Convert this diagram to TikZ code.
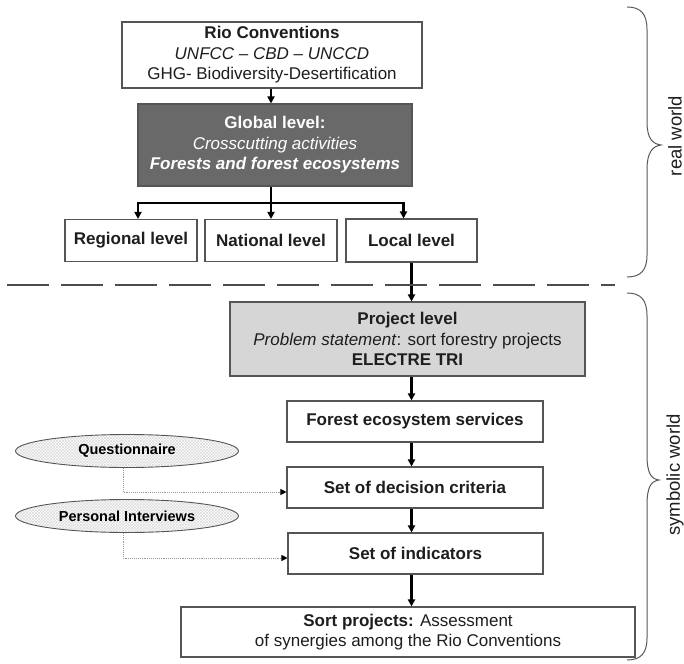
\documentclass[tikz,border=0pt]{standalone}
\usepackage{fontspec}
\setmainfont{Liberation Sans}
\usetikzlibrary{arrows.meta,shapes.geometric,patterns}
\definecolor{txt}{HTML}{1E1E1E}
\definecolor{bord}{HTML}{555555}
\definecolor{dark}{HTML}{696969}
\definecolor{light}{HTML}{D6D6D6}
\begin{document}
\begin{tikzpicture}[x=1pt,y=-1pt,
  box/.style={draw=bord,line width=1.1pt,fill=white,text=txt,align=center,inner sep=0pt,
    font=\fontsize{17}{20.5}\selectfont},
  oval/.style={ellipse,draw=bord,line width=0.9pt,pattern=crosshatch,pattern color=gray!30,
    inner sep=0pt,text=black,font=\fontsize{14.5}{16}\selectfont\bfseries},
  arr/.style={line width=2.4pt,draw=black,-{Triangle[length=7pt,width=7pt]}},
  dotl/.style={draw=gray!80,line width=0.9pt,densely dotted,-{Triangle[length=6pt,width=6pt,fill=black,color=black]}},
  brace/.style={draw=gray!70!black,line width=1pt},
  side/.style={text=txt,font=\fontsize{18.5}{20}\selectfont,rotate=90}]
\useasboundingbox (0,0) rectangle (684,663);

% nodes
\node[box,minimum width=300pt,minimum height=66pt] (rio) at (272,55)
  {\textbf{Rio Conventions}\\\textit{UNFCC -- CBD -- UNCCD}\\GHG- Biodiversity-Desertification};
\node[box,fill=dark,text=white,minimum width=274pt,minimum height=82pt] (glob) at (275,145)
  {\textbf{Global level:}\\\textit{Crosscutting activities}\\\textbf{\textit{Forests and forest ecosystems}}};
\node[box,minimum width=132pt,minimum height=42pt] (reg) at (131,240.5) {\textbf{Regional level}};
\node[box,minimum width=132pt,minimum height=42pt] (nat) at (271,240.5) {\textbf{National level}};
\node[box,minimum width=131pt,minimum height=43pt] (loc) at (411.5,240.5) {\textbf{Local level}};
\node[box,fill=light,minimum width=355pt,minimum height=74pt] (proj) at (407.5,339)
  {\textbf{Project level}\\\textit{Problem statement}: sort forestry projects\\\textbf{ELECTRE TRI}};
\node[box,minimum width=256pt,minimum height=41pt] (fes) at (415,421.5) {\textbf{Forest ecosystem services}};
\node[box,minimum width=256pt,minimum height=41pt] (sdc) at (415,487.5) {\textbf{Set of decision criteria}};
\node[box,minimum width=255pt,minimum height=41pt] (ind) at (415.5,553.5) {\textbf{Set of indicators}};
\node[box,minimum width=454pt,minimum height=50pt] (sort) at (408,632)
  {\textbf{Sort projects:} Assessment\\of synergies among the Rio Conventions};
\node[oval,minimum width=223pt,minimum height=33pt] (q) at (127,451) {Questionnaire};
\node[oval,minimum width=223pt,minimum height=33pt] (pi) at (127,516) {Personal Interviews};

% connectors
\draw[arr] (rio.south -| 271,0) -- (glob.north -| 271,0);
\coordinate (bar) at (271,203);
\draw[line width=2.4pt] (glob.south -| bar) -- (bar);
\draw[arr] (bar) -| ([xshift=7pt]reg.north);
\draw[arr] (bar) -- (nat.north -| bar);
\draw[arr] (bar) -| ([xshift=-8pt]loc.north);
\draw[arr] (loc.south) -- (loc.south |- proj.north);
\draw[arr] (loc |- proj.south) -- (loc |- fes.north);
\draw[arr] (loc |- fes.south) -- (loc |- sdc.north);
\draw[arr] (loc |- sdc.south) -- (loc |- ind.north);
\draw[arr] (loc |- ind.south) -- (loc |- sort.north);
\draw[dotl] ([xshift=-4pt]q.south) |- ([yshift=-4.5pt]sdc.west);
\draw[dotl] ([xshift=-4pt]pi.south) |- ([yshift=-4.5pt]ind.west);

% separator
\coordinate (sepL) at (7,285);
\coordinate (sepR) at (615,285);
\draw[gray!60!black,line width=1.5pt,dash pattern=on 42pt off 12pt] (sepL) -- (sepR);

% braces
\draw[brace] (627,7) .. controls (641,7) and (647,14) .. (647,30) -- (647,122)
  .. controls (647,139) and (653,144) .. (661,145)
  .. controls (653,146) and (647,152) .. (647,169) -- (647,255)
  .. controls (647,270) and (641,277) .. (627,277);
\draw[brace] (627,293) .. controls (641,293) and (647,300) .. (647,316) -- (647,455)
  .. controls (647,473) and (651,479) .. (659,480)
  .. controls (651,481) and (647,487) .. (647,505) -- (647,638)
  .. controls (647,653) and (641,660) .. (627,660);
\node[side] (rw) at (675,136) {real world};
\node[side] (sw) at (675,475) {symbolic world};
\end{tikzpicture}
\end{document}
